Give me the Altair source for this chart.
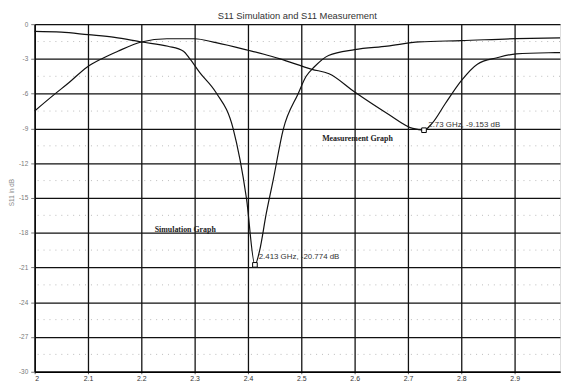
import altair as alt
import pandas as pd

# ---- data ----
sim_freq = [2.0, 2.05, 2.1, 2.15, 2.2, 2.25, 2.279, 2.291, 2.31, 2.34, 2.372, 2.397, 2.413,
            2.422, 2.434, 2.447, 2.466, 2.494, 2.509, 2.524, 2.551, 2.6, 2.661, 2.721, 2.8, 2.903, 2.985]
sim_db = [-0.63, -0.69, -0.91, -1.14, -1.54, -1.91, -2.34, -3.0, -4.2, -5.9, -9.0, -15.0, -20.774,
          -19.5, -16.4, -13.5, -9.1, -6.0, -4.5, -3.7, -2.7, -2.2, -1.9, -1.53, -1.42, -1.25, -1.18]

meas_freq = [2.0, 2.037, 2.064, 2.098, 2.125, 2.156, 2.2, 2.248, 2.3, 2.34, 2.4, 2.43, 2.46,
             2.52, 2.552, 2.6, 2.661, 2.709, 2.73, 2.745, 2.77, 2.8, 2.83, 2.867, 2.903, 2.964, 2.985]
meas_db = [-7.49, -6.06, -5.06, -3.71, -3.0, -2.34, -1.54, -1.26, -1.26, -1.6, -2.25, -2.6, -3.0,
           -3.9, -4.28, -5.85, -7.7, -9.0, -9.153, -8.57, -6.85, -4.87, -3.45, -2.9, -2.56, -2.47, -2.46]

x_ticks = [2.0, 2.1, 2.2, 2.3, 2.4, 2.5, 2.6, 2.7, 2.8, 2.9]
y_ticks = [0, -3, -6, -9, -12, -15, -18, -21, -24, -27, -30]
y_minor = [-1.5, -4.5, -7.5, -10.5, -13.5, -16.5, -19.5, -22.5, -25.5, -28.5]

marker_freq = [2.413, 2.73]
marker_db = [-20.774, -9.153]
marker_text = ["2.413 GHz, -20.774 dB", "2.73 GHz, -9.153 dB"]

graph_names = ["Simulation Graph", "Measurement Graph"]

# ---- tables ----
lines = pd.concat([
    pd.DataFrame({"freq": sim_freq, "db": sim_db, "series": "Simulation"}),
    pd.DataFrame({"freq": meas_freq, "db": meas_db, "series": "Measurement"}),
])
markers = pd.DataFrame({"freq": marker_freq, "db": marker_db, "label": marker_text})
marker_labels = markers.assign(freq=[2.42, 2.738], db=[-20.14, -8.67])
names = pd.DataFrame({"freq": [2.225, 2.539], "db": [-17.76, -9.94], "label": graph_names})
minor = pd.DataFrame({"db": y_minor})

xs = alt.Scale(domain=[2.0, 2.985], nice=False, zero=False)
ys = alt.Scale(domain=[-30, 0], nice=False)

x_axis = alt.Axis(values=x_ticks, format="~g", grid=True, gridColor="#111", gridWidth=1.3,
                  domainColor="#000", domainWidth=1.3, tickColor="#555", tickSize=2,
                  labelFontSize=7, labelColor="#333", labelPadding=1, labelFont="Liberation Sans",
                  labelOverlap=False)
y_axis = alt.Axis(values=y_ticks, labelExpr="'' + datum.value", grid=True, gridColor="#111",
                  gridWidth=1.3, domainColor="#000", domainWidth=1.3, tickColor="#777", tickSize=4,
                  labelFontSize=6.5, labelColor="#777", labelPadding=3, labelFont="Liberation Sans",
                  labelOverlap=False,
                  titleFontSize=6.5, titleColor="#888", titleFontWeight="normal",
                  titleFont="Liberation Sans", titleX=-23, titleY=170, titleAngle=270,
                  titleAlign="center", titleBaseline="middle")

X = alt.X("freq:Q", scale=xs, title=None, axis=x_axis)
Y = alt.Y("db:Q", scale=ys, title="S11 in dB", axis=y_axis)

minor_rules = alt.Chart(minor).mark_rule(color="#bbb", strokeDash=[1, 5], strokeWidth=1).encode(y=Y)

line_layer = alt.Chart(lines).mark_line(color="#111", strokeWidth=1.2, interpolate="monotone").encode(
    x=X, y=Y, detail="series:N")

marker_layer = alt.Chart(markers).mark_point(shape="square", size=22, filled=True, fill="white",
                                             stroke="#000", strokeWidth=1, opacity=1).encode(x=X, y=Y)

marker_text_layer = alt.Chart(marker_labels).mark_text(align="left", baseline="middle", fontSize=8,
                                                      font="Liberation Sans", color="#333").encode(
    x=X, y=Y, text="label:N")

names_layer = alt.Chart(names).mark_text(align="left", baseline="middle", fontSize=8,
                                         font="Liberation Serif", fontWeight="bold", color="#222").encode(
    x=X, y=Y, text="label:N")

chart = alt.layer(minor_rules, line_layer, marker_layer, marker_text_layer, names_layer).properties(
    width=532, height=352,
    padding={"left": 27, "top": 14, "right": 1, "bottom": 8},
    autosize=alt.AutoSizeParams(type="none"),
    title=alt.TitleParams("S11 Simulation and S11 Measurement", fontSize=9.5, font="Liberation Sans",
                          fontWeight="normal", color="#333", anchor="middle", offset=1),
).configure_view(stroke=None).configure(background="white")

chart.save("out.html", embed_options={"renderer": "svg", "actions": False})
